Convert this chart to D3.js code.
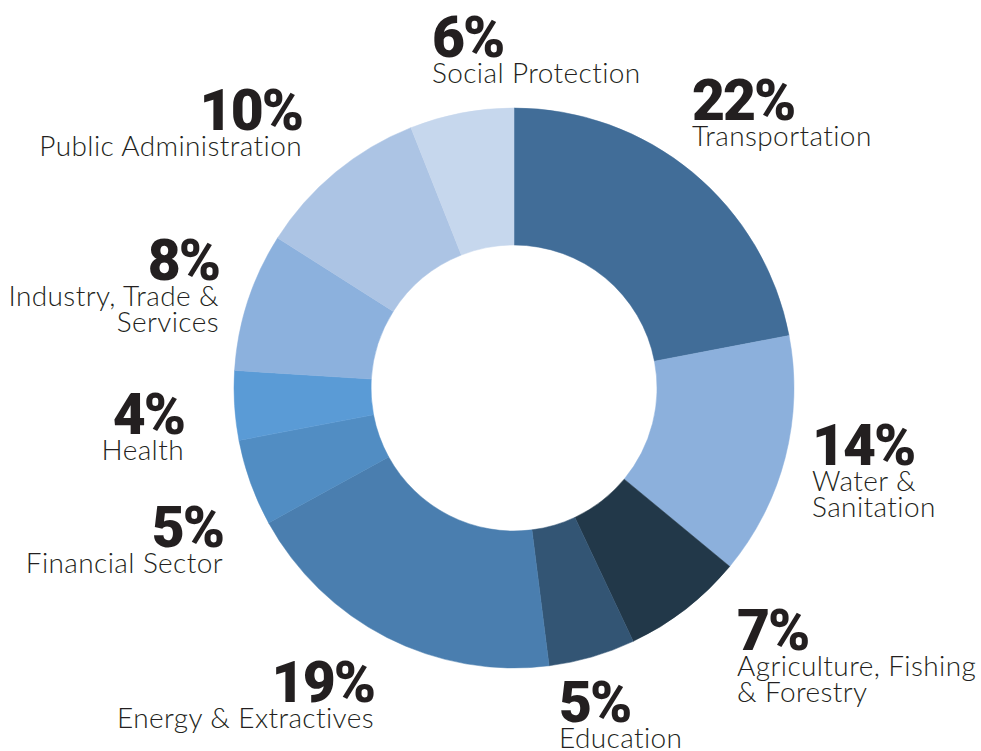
<!DOCTYPE html>
<html>
<head>
<meta charset="utf-8">
<script src="https://cdn.jsdelivr.net/npm/d3@7"></script>
<style>
  body { margin: 0; background: #fff; }
  .pct { font-family: Roboto, sans-serif; font-weight: 900; fill: #231f20; }
  .sector-name { font-family: Lato, sans-serif; font-weight: 300; fill: #231f20; }
</style>
</head>
<body>
<div id="chart"></div>
<script>
// sectors, clockwise from 12 o'clock
const sectors = ['Transportation', 'Water & Sanitation', 'Agriculture, Fishing & Forestry', 'Education',
    'Energy & Extractives', 'Financial Sector', 'Health', 'Industry, Trade & Services',
    'Public Administration', 'Social Protection'];
const shares = [22, 14, 7, 5, 19, 5, 4, 8, 10, 6];
// how each name is broken over lines
const nameLines = [['Transportation'], ['Water &', 'Sanitation'], ['Agriculture, Fishing', '& Forestry'], ['Education'],
    ['Energy & Extractives'], ['Financial Sector'], ['Health'], ['Industry, Trade &', 'Services'],
    ['Public Administration'], ['Social Protection']];
const sectorColors = ['#416d98', '#8cb0dc', '#223849', '#335574', '#4a7eaf',
    '#518dc3', '#5a9bd6', '#8cb1dd', '#acc4e4', '#c6d7ed'];

// label placement: anchor x, baseline of the percentage, text-anchor
const labelLayout = [
    {x: 692, y: 120, anchor: 'start'},
    {x: 812, y: 465, anchor: 'start'},
    {x: 737, y: 650, anchor: 'start'},
    {x: 559, y: 722, anchor: 'start'},
    {x: 374, y: 702, anchor: 'end'},
    {x: 223, y: 547, anchor: 'end'},
    {x: 184, y: 434, anchor: 'end'},
    {x: 219, y: 280, anchor: 'end'},
    {x: 302, y: 130, anchor: 'end'},
    {x: 432, y: 57, anchor: 'start'}
];

class SectorDonut {

    constructor(_config) {
        this.config = {
            parentElement: _config.parentElement,
            containerWidth: _config.containerWidth || 981,
            containerHeight: _config.containerHeight || 751,
            cx: _config.cx || 514,
            cy: _config.cy || 388,
            outerRadius: _config.outerRadius || 280,
            innerRadius: _config.innerRadius || 143
        }
        this.initVis();
    }

    initVis() {
        let vis = this;

        vis.svg = d3.select(vis.config.parentElement)
            .append('svg')
            .attr('width', vis.config.containerWidth)
            .attr('height', vis.config.containerHeight);

        vis.chart = vis.svg.append('g')
            .attr('transform', `translate(${vis.config.cx},${vis.config.cy})`);

        vis.labels = vis.svg.append('g');

        vis.color = d3.scaleOrdinal()
            .domain(sectors)
            .range(sectorColors);

        vis.pie = d3.pie()
            .sort(null)
            .value(i => shares[i]);

        vis.arc = d3.arc()
            .innerRadius(vis.config.innerRadius)
            .outerRadius(vis.config.outerRadius);
    }

    renderVis() {
        let vis = this;

        vis.chart.selectAll('.slice')
            .data(vis.pie(d3.range(sectors.length)))
            .join('path')
            .attr('class', 'slice')
            .attr('d', vis.arc)
            .attr('fill', d => vis.color(sectors[d.data]))
            .attr('stroke', d => vis.color(sectors[d.data]))
            .attr('stroke-width', 0.5);

        const label = vis.labels.selectAll('.label')
            .data(d3.range(sectors.length))
            .join('g')
            .attr('class', 'label')
            .attr('transform', i => `translate(${labelLayout[i].x},${labelLayout[i].y})`)
            .attr('text-anchor', i => labelLayout[i].anchor);

        label.append('text')
            .attr('class', 'pct')
            .style('font-size', '57px')
            .style('letter-spacing', '-2px')
            .text(i => shares[i] + '%');

        label.append('text')
            .attr('class', 'sector-name')
            .style('font-size', '28px')
            .style('letter-spacing', '0.4px')
            .selectAll('tspan')
            .data(i => nameLines[i])
            .join('tspan')
            .attr('x', 0)
            .attr('y', (d, j) => 26 + j * 26)
            .text(d => d);
    }
}

const donut = new SectorDonut({parentElement: '#chart'});
donut.renderVis();
</script>
</body>
</html>
